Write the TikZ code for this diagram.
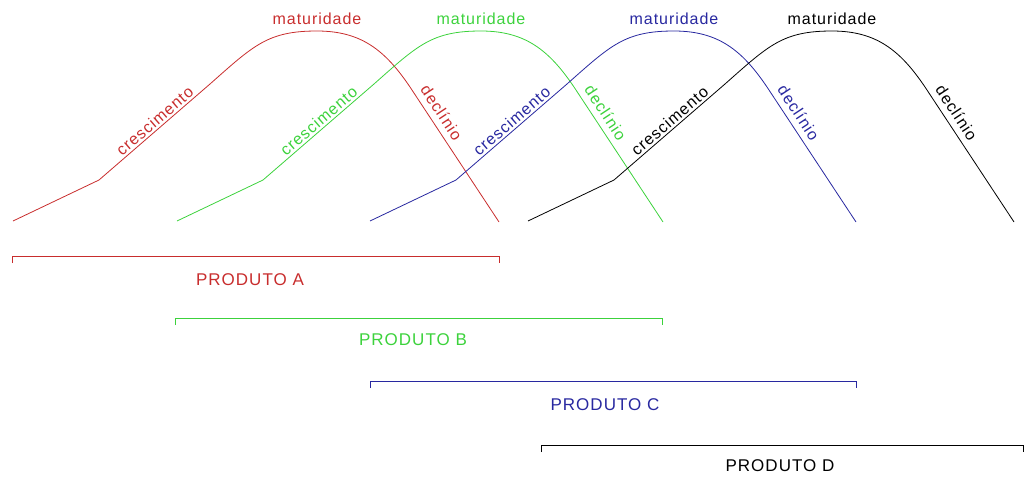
\documentclass[tikz,border=0pt]{standalone}
\usepackage{fontspec}
\setmainfont[LetterSpace=6]{Liberation Sans}
\usepackage{tikz}

\definecolor{corA}{RGB}{200,45,45}
\definecolor{corB}{RGB}{60,210,60}
\definecolor{corC}{RGB}{40,40,160}
\definecolor{corD}{RGB}{0,0,0}

\tikzset{rotulo/.style={font=\fontsize{16}{18}\selectfont,inner sep=2pt},
         produto/.style={font=\fontsize{17}{20}\selectfont}}

\begin{document}
\begin{tikzpicture}[x=1pt,y=-1pt,line width=0.8pt]
\useasboundingbox (0,0) rectangle (1024,477);

\foreach \s/\cor/\p in {0/corA/A,164/corB/B,357/corC/C,515/corD/D}{
\begin{scope}[xshift=\s,color=\cor]
\draw (13,221) -- (99,180) -- node[rotulo,sloped,above,pos=0.55] (cre\p) {crescimento} (210,84)
  .. controls (254,45) and (268,31) .. (317,31)
  .. controls (361,31) and (385,50) .. (410,87)
  -- node[rotulo,sloped,above=4pt,pos=0.24] (dec\p) {declínio} (499,222);
\node[rotulo] (mat\p) at (317,19) {maturidade};
\end{scope}
}

\coordinate (iniA) at (12,256);
\coordinate (fimA) at (499,256);
\coordinate (iniB) at (175,318);
\coordinate (fimB) at (662,318);
\coordinate (iniC) at (370,381);
\coordinate (fimC) at (856,381);
\coordinate (iniD) at (541,445);
\coordinate (fimD) at (1023,445);

\draw[corA] ([yshift=-7pt]iniA) -- (iniA) -- (fimA) -- ([yshift=-7pt]fimA);
\draw[corB] ([yshift=-7pt]iniB) -- (iniB) -- (fimB) -- ([yshift=-7pt]fimB);
\draw[corC] ([yshift=-7pt]iniC) -- (iniC) -- (fimC) -- ([yshift=-7pt]fimC);
\draw[corD] ([yshift=-7pt]iniD) -- (iniD) -- (fimD) -- ([yshift=-7pt]fimD);

\node[produto,corA] (prodA) at (250,280) {PRODUTO A};
\node[produto,corB] (prodB) at (413,340) {PRODUTO B};
\node[produto,corC] (prodC) at (605,405) {PRODUTO C};
\node[produto,corD] (prodD) at (780,466) {PRODUTO D};
\end{tikzpicture}
\end{document}
